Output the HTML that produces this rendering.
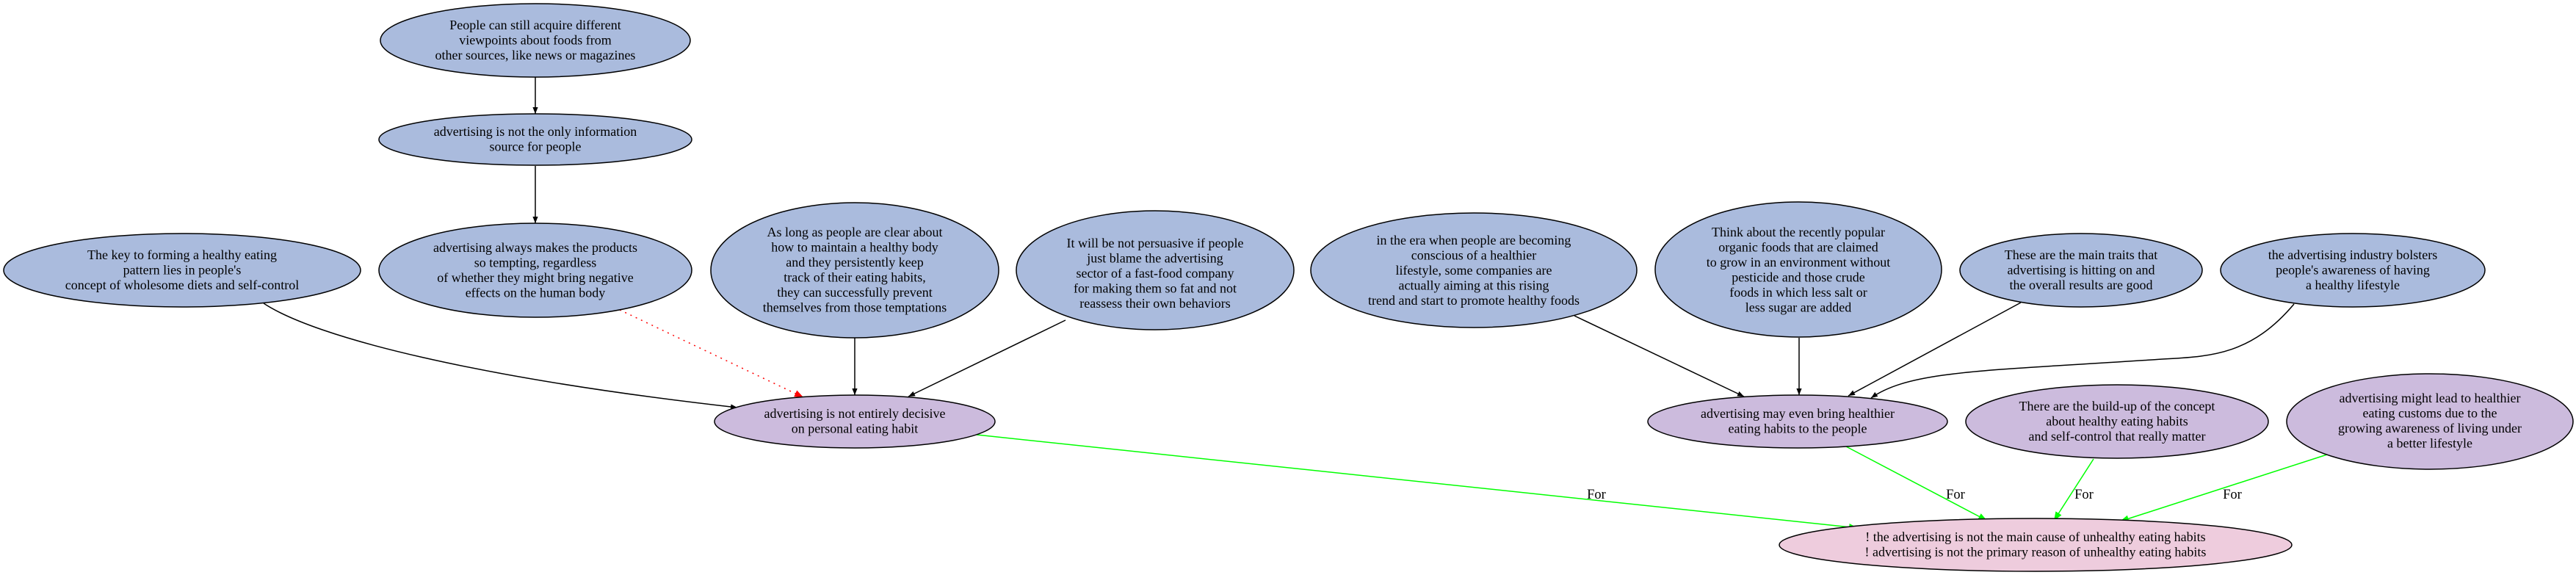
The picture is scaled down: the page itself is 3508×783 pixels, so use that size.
<!DOCTYPE html>
<html><head><meta charset="utf-8"><style>html,body{margin:0;padding:0;background:#fff}svg{display:block}</style></head>
<body>
<svg width="3508" height="783" viewBox="0 0 3508 783" xmlns="http://www.w3.org/2000/svg" font-family="'Liberation Serif', serif" font-size="18">
<defs>
<marker id="ab" viewBox="0 0 10 10" refX="10" refY="5" markerWidth="9" markerHeight="9" orient="auto" markerUnits="userSpaceOnUse"><path d="M0,1 L10,5 L0,9z" fill="#000"/></marker>
<marker id="ar" viewBox="0 0 10 10" refX="10" refY="5" markerWidth="12" markerHeight="12" orient="auto" markerUnits="userSpaceOnUse"><path d="M0,1 L10,5 L0,9z" fill="#f00"/></marker>
<marker id="ag" viewBox="0 0 10 10" refX="10" refY="5" markerWidth="12" markerHeight="12" orient="auto" markerUnits="userSpaceOnUse"><path d="M0,1 L10,5 L0,9z" fill="#0f0"/></marker>
</defs>
<g fill="none" stroke="#000" stroke-width="1.5">
<path d="M729,105 L729,155" marker-end="url(#ab)"/>
<path d="M729,226 L729,304" marker-end="url(#ab)"/>
<path d="M359,413 C430,460 650,515 1004,555" marker-end="url(#ab)"/>
<path d="M1164,460 L1164,538" marker-end="url(#ab)"/>
<path d="M1451,436 L1237,540" marker-end="url(#ab)"/>
<path d="M2144,430 L2375,540" marker-end="url(#ab)"/>
<path d="M2450,460 L2450,538" marker-end="url(#ab)"/>
<path d="M2752,412 L2517,539" marker-end="url(#ab)"/>
<path d="M3124,414 C3060,490 3000,485 2930,490 C2700,505 2600,505 2548,542" marker-end="url(#ab)"/>
</g>
<path d="M844,422 L1094,541" fill="none" stroke="#f00" stroke-width="1.5" stroke-dasharray="2,6" marker-end="url(#ar)"/>
<g fill="none" stroke="#0f0" stroke-width="1.5">
<path d="M1330,592 L2530,719" marker-end="url(#ag)"/>
<path d="M2514,608 L2706,709" marker-end="url(#ag)"/>
<path d="M2851,625 L2797,709" marker-end="url(#ag)"/>
<path d="M3169,619 L2887,710" marker-end="url(#ag)"/>
</g>
<g text-anchor="middle" font-size="18.5">
<text x="2174" y="679">For</text>
<text x="2663" y="679">For</text>
<text x="2838" y="679">For</text>
<text x="3040" y="679">For</text>
</g>
<g stroke="#000" stroke-width="1.5">
<ellipse cx="729" cy="55" rx="211" ry="50" fill="#aabbdd"/>
<ellipse cx="729" cy="190" rx="213" ry="35" fill="#aabbdd"/>
<ellipse cx="729" cy="368" rx="213" ry="64" fill="#aabbdd"/>
<ellipse cx="248" cy="368" rx="243" ry="50" fill="#aabbdd"/>
<ellipse cx="1164" cy="368" rx="196" ry="92" fill="#aabbdd"/>
<ellipse cx="1573" cy="368" rx="189" ry="81" fill="#aabbdd"/>
<ellipse cx="2007" cy="368" rx="222" ry="78" fill="#aabbdd"/>
<ellipse cx="2449" cy="367" rx="195" ry="92" fill="#aabbdd"/>
<ellipse cx="2834" cy="368" rx="165" ry="50" fill="#aabbdd"/>
<ellipse cx="3204" cy="368" rx="180" ry="50" fill="#aabbdd"/>
<ellipse cx="1164" cy="574" rx="191" ry="36" fill="#ccbbdd"/>
<ellipse cx="2448" cy="574" rx="204" ry="36" fill="#ccbbdd"/>
<ellipse cx="2883" cy="574" rx="206" ry="50" fill="#ccbbdd"/>
<ellipse cx="3309" cy="574" rx="195" ry="65" fill="#ccbbdd"/>
<ellipse cx="2772" cy="742" rx="349" ry="36" fill="#eeccdd"/>
</g>
<g text-anchor="middle">
<text x="729" y="40">People can still acquire different</text>
<text x="729" y="60.5">viewpoints about foods from</text>
<text x="729" y="81">other sources, like news or magazines</text>
<text x="729" y="185">advertising is not the only information</text>
<text x="729" y="205.5">source for people</text>
<text x="729" y="343">advertising always makes the products</text>
<text x="729" y="363.5">so tempting, regardless</text>
<text x="729" y="384">of whether they might bring negative</text>
<text x="729" y="404.5">effects on the human body</text>
<text x="248" y="353">The key to forming a healthy eating</text>
<text x="248" y="373.5">pattern lies in people's</text>
<text x="248" y="394">concept of wholesome diets and self-control</text>
<text x="1164" y="322">As long as people are clear about</text>
<text x="1164" y="342.5">how to maintain a healthy body</text>
<text x="1164" y="363">and they persistently keep</text>
<text x="1164" y="383.5">track of their eating habits,</text>
<text x="1164" y="404">they can successfully prevent</text>
<text x="1164" y="424.5">themselves from those temptations</text>
<text x="1573" y="337">It will be not persuasive if people</text>
<text x="1573" y="357.5">just blame the advertising</text>
<text x="1573" y="378">sector of a fast-food company</text>
<text x="1573" y="398.5">for making them so fat and not</text>
<text x="1573" y="419">reassess their own behaviors</text>
<text x="2007" y="333">in the era when people are becoming</text>
<text x="2007" y="353.5">conscious of a healthier</text>
<text x="2007" y="374">lifestyle, some companies are</text>
<text x="2007" y="394.5">actually aiming at this rising</text>
<text x="2007" y="415">trend and start to promote healthy foods</text>
<text x="2449" y="322">Think about the recently popular</text>
<text x="2449" y="342.5">organic foods that are claimed</text>
<text x="2449" y="363">to grow in an environment without</text>
<text x="2449" y="383.5">pesticide and those crude</text>
<text x="2449" y="404">foods in which less salt or</text>
<text x="2449" y="424.5">less sugar are added</text>
<text x="2834" y="353">These are the main traits that</text>
<text x="2834" y="373.5">advertising is hitting on and</text>
<text x="2834" y="394">the overall results are good</text>
<text x="3204" y="353">the advertising industry bolsters</text>
<text x="3204" y="373.5">people's awareness of having</text>
<text x="3204" y="394">a healthy lifestyle</text>
<text x="1164" y="569">advertising is not entirely decisive</text>
<text x="1164" y="589.5">on personal eating habit</text>
<text x="2448" y="569">advertising may even bring healthier</text>
<text x="2448" y="589.5">eating habits to the people</text>
<text x="2883" y="559">There are the build-up of the concept</text>
<text x="2883" y="579.5">about healthy eating habits</text>
<text x="2883" y="600">and self-control that really matter</text>
<text x="3309" y="548">advertising might lead to healthier</text>
<text x="3309" y="568.5">eating customs due to the</text>
<text x="3309" y="589">growing awareness of living under</text>
<text x="3309" y="609.5">a better lifestyle</text>
<text x="2772" y="737">! the advertising is not the main cause of unhealthy eating habits</text>
<text x="2772" y="757.5">! advertising is not the primary reason of unhealthy eating habits</text>
</g>
</svg>
</body></html>
